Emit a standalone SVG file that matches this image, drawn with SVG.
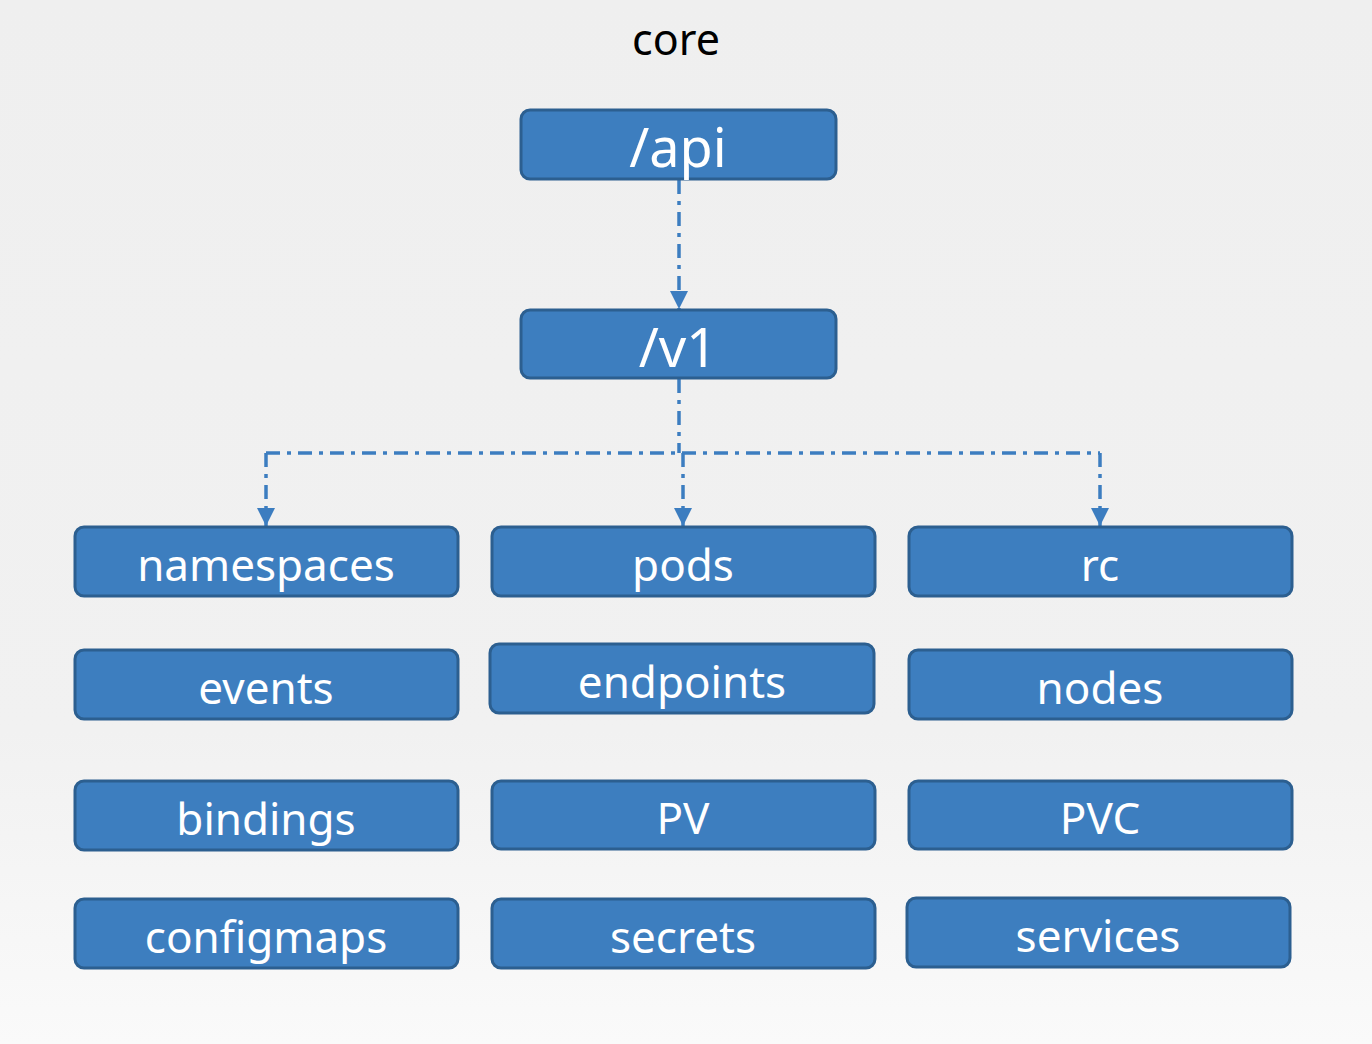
<svg xmlns="http://www.w3.org/2000/svg" width="1372" height="1044" viewBox="0 0 1372 1044">
<defs>
<linearGradient id="bg" x1="0" y1="0" x2="0" y2="1">
<stop offset="0" stop-color="#efefef"/>
<stop offset="0.7" stop-color="#f1f1f1"/>
<stop offset="1" stop-color="#fafafa"/>
</linearGradient>
<marker id="arr" viewBox="0 0 10 10" refX="10" refY="5" markerWidth="20" markerHeight="18" markerUnits="userSpaceOnUse" orient="auto">
<path d="M0,0 L10,5 L0,10 z" fill="#3c7dc0"/>
</marker>
<style>
.box{fill:#3d7ebf;stroke:#2c5f90;stroke-width:3}
.lbl{font-family:"Noto Sans","Open Sans",sans-serif;font-size:44px;fill:#ffffff;text-anchor:middle}
.big{font-size:54px}
.title{font-family:"Noto Sans","Open Sans",sans-serif;font-size:43px;fill:#000000;text-anchor:middle}
.con{fill:none;stroke:#3c7dc0;stroke-width:3.5;stroke-dasharray:14 7 4 7}
</style>
</defs>
<rect width="1372" height="1044" fill="url(#bg)"/>
<text class="title" x="676" y="55">core</text>
<g id="connectors">
<path class="con" d="M679,180 L679,309" marker-end="url(#arr)"/>
<path class="con" d="M679,379 L679,453 M266,453 L1100,453"/>
<path class="con" d="M266,453 L266,526" marker-end="url(#arr)"/>
<path class="con" d="M683,453 L683,526" marker-end="url(#arr)"/>
<path class="con" d="M1100,453 L1100,526" marker-end="url(#arr)"/>
</g>
<g id="api"><rect class="box" x="521" y="110" width="315" height="69" rx="9"/><text class="lbl big" x="678" y="167">/api</text></g>
<g id="v1"><rect class="box" x="521" y="310" width="315" height="68" rx="9"/><text class="lbl big" x="678" y="367">/v1</text></g>
<g id="namespaces"><rect class="box" x="75" y="527" width="383" height="69" rx="9"/><text class="lbl" x="266" y="581">namespaces</text></g>
<g id="pods"><rect class="box" x="492" y="527" width="383" height="69" rx="9"/><text class="lbl" x="683" y="581">pods</text></g>
<g id="rc"><rect class="box" x="909" y="527" width="383" height="69" rx="9"/><text class="lbl" x="1100" y="581">rc</text></g>
<g id="events"><rect class="box" x="75" y="650" width="383" height="69" rx="9"/><text class="lbl" x="266" y="704">events</text></g>
<g id="endpoints"><rect class="box" x="490" y="644" width="384" height="69" rx="9"/><text class="lbl" x="682" y="698">endpoints</text></g>
<g id="nodes"><rect class="box" x="909" y="650" width="383" height="69" rx="9"/><text class="lbl" x="1100" y="704">nodes</text></g>
<g id="bindings"><rect class="box" x="75" y="781" width="383" height="69" rx="9"/><text class="lbl" x="266" y="835">bindings</text></g>
<g id="PV"><rect class="box" x="492" y="781" width="383" height="68" rx="9"/><text class="lbl" x="683" y="834">PV</text></g>
<g id="PVC"><rect class="box" x="909" y="781" width="383" height="68" rx="9"/><text class="lbl" x="1100" y="834">PVC</text></g>
<g id="configmaps"><rect class="box" x="75" y="899" width="383" height="69" rx="9"/><text class="lbl" x="266" y="953">configmaps</text></g>
<g id="secrets"><rect class="box" x="492" y="899" width="383" height="69" rx="9"/><text class="lbl" x="683" y="953">secrets</text></g>
<g id="services"><rect class="box" x="907" y="898" width="383" height="69" rx="9"/><text class="lbl" x="1098" y="952">services</text></g>
</svg>
